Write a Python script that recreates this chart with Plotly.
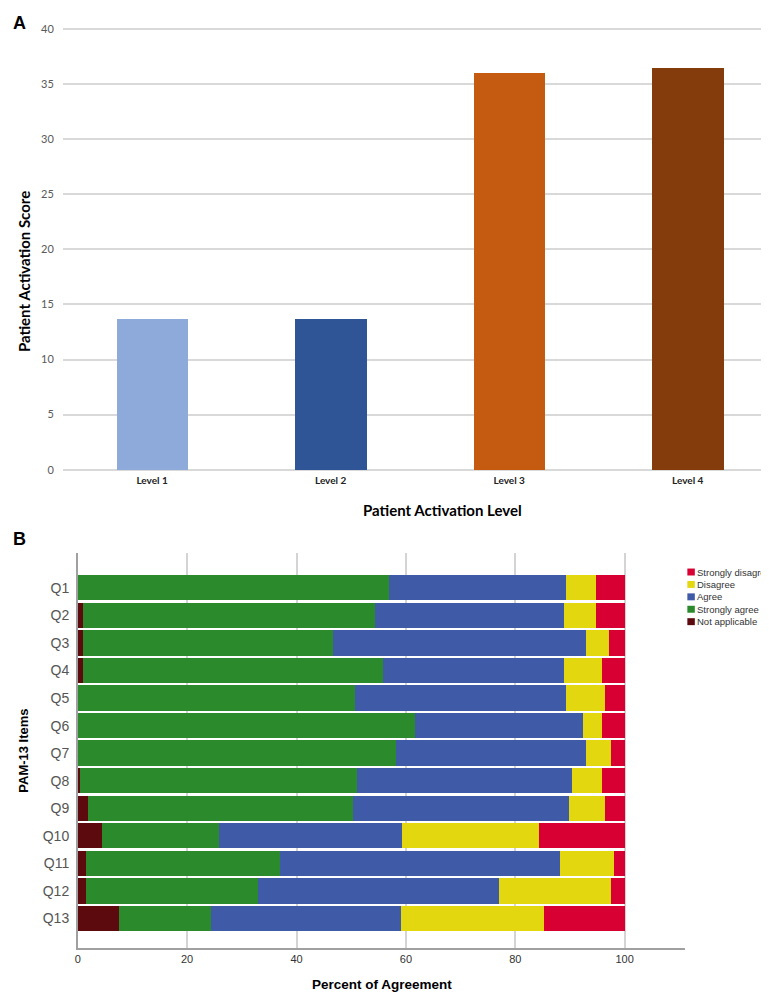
import plotly.graph_objects as go

W, H = 769, 992

# Panel A data
levels = ["Level 1", "Level 2", "Level 3", "Level 4"]
activation_scores = [13.7, 13.7, 36.0, 36.5]
level_colors = ["#8eaadb", "#2f5597", "#c55a11", "#843c0c"]

# Panel B data (percent per response category)
items = ["Q1", "Q2", "Q3", "Q4", "Q5", "Q6", "Q7", "Q8", "Q9", "Q10", "Q11", "Q12", "Q13"]
not_applicable = [0.0, 0.9, 0.9, 0.9, 0.0, 0.0, 0.0, 0.4, 1.9, 4.4, 1.4, 1.4, 7.5]
strongly_agree = [56.8, 53.4, 45.8, 54.9, 50.6, 61.7, 58.2, 50.7, 48.3, 21.3, 35.5, 31.5, 16.9]
agree = [32.5, 34.5, 46.1, 33.0, 38.7, 30.6, 34.6, 39.2, 39.5, 33.6, 51.3, 44.1, 34.7]
disagree = [5.5, 6.0, 4.2, 7.1, 7.1, 3.6, 4.6, 5.6, 6.7, 25.0, 9.8, 20.4, 26.1]
strongly_disagree = [5.2, 5.2, 3.0, 4.1, 3.6, 4.1, 2.6, 4.1, 3.6, 15.7, 2.0, 2.6, 14.8]

series_names = ["Not applicable", "Strongly agree", "Agree", "Disagree", "Strongly disagree"]
series_values = [not_applicable, strongly_agree, agree, disagree, strongly_disagree]
series_colors = ["#5c0a0e", "#2b8a2b", "#3f5ba8", "#e3d70f", "#d80032"]


def px_x(p):
    return p / W


def px_y(p):
    return 1 - p / H


fig = go.Figure()

# Panel A: activation score by level
fig.add_trace(go.Bar(
    x=levels, y=activation_scores,
    marker=dict(color=level_colors, line=dict(width=0)),
    width=0.4, showlegend=False, xaxis="x", yaxis="y",
))

# Panel B: stacked agreement bars
for name, vals, col in zip(series_names, series_values, series_colors):
    fig.add_trace(go.Bar(
        y=items, x=vals, name=name, orientation="h",
        marker=dict(color=col, line=dict(width=0)),
        width=0.92, showlegend=False, xaxis="x2", yaxis="y2",
    ))

fig.update_layout(
    width=W, height=H,
    margin=dict(l=0, r=0, t=0, b=0),
    plot_bgcolor="white", paper_bgcolor="white",
    barmode="stack",
    font=dict(family="Liberation Sans, Arial", color="#333333"),
    xaxis=dict(
        domain=[px_x(52), 1.0], range=[-0.5, 3.5],
        showgrid=False, zeroline=False, showline=False,
        tickfont=dict(family="Lato", size=10, color="#222222", weight="bold"),
        anchor="y",
    ),
    yaxis=dict(
        domain=[px_y(464.3), px_y(13.7)], range=[-0.3, 40.3],
        tickvals=[0, 5, 10, 15, 20, 25, 30, 35, 40],
        showgrid=True, gridcolor="#d9d9d9", gridwidth=1.5,
        zeroline=False, showline=False,
        tickfont=dict(family="Lato", size=11, color="#595959"),
        ticklabelstandoff=8,
        anchor="x",
    ),
    xaxis2=dict(
        domain=[px_x(67), px_x(677)], range=[0, 111.1],
        tickvals=[0, 20, 40, 60, 80, 100],
        showgrid=True, gridcolor="#d4d4d4", gridwidth=1.5,
        zeroline=False, showline=True, linecolor="#a0a0a0", linewidth=1.5,
        tickfont=dict(size=11, color="#333333"),
        anchor="y2",
    ),
    yaxis2=dict(
        domain=[px_y(943), px_y(545)], range=[13.08, -1.26],
        showgrid=False, zeroline=False, showline=True,
        linecolor="#a0a0a0", linewidth=1.5,
        tickfont=dict(size=14, color="#555555"),
        ticklabelstandoff=4,
        anchor="x2",
    ),
    bargap=0,
)

annotations = [
    dict(text="<b>A</b>", x=px_x(9), y=px_y(11), font=dict(size=18, color="black")),
    dict(text="<b>B</b>", x=px_x(9), y=px_y(531), font=dict(size=18, color="black")),
    dict(text="<b>Patient Activation Score</b>", x=px_x(13), y=px_y(261), textangle=-90,
         font=dict(family="Lato", size=15, color="black")),
    dict(text="<b>Patient Activation Level</b>", x=px_x(433), y=px_y(502),
         font=dict(family="Lato", size=15, color="black")),
    dict(text="<b>PAM-13 Items</b>", x=px_x(13), y=px_y(744), textangle=-90,
         font=dict(size=13, color="black")),
    dict(text="<b>Percent of Agreement</b>", x=px_x(372), y=px_y(979),
         font=dict(size=13.5, color="black")),
]
for a in annotations:
    a.update(xref="paper", yref="paper", showarrow=False, xanchor="center", yanchor="middle")

# Compact legend (reversed order, as in the original)
shapes = []
for i, (name, col) in enumerate(zip(series_names[::-1], series_colors[::-1])):
    yc = 564 + i * 12.5
    shapes.append(dict(
        type="rect", xref="paper", yref="paper",
        x0=px_x(679), x1=px_x(686.5), y0=px_y(yc + 3.5), y1=px_y(yc - 3.5),
        fillcolor=col, line=dict(width=0),
    ))
    annotations.append(dict(
        text=name, x=px_x(688), y=px_y(yc), xref="paper", yref="paper",
        showarrow=False, xanchor="left", yanchor="middle", borderpad=0,
        font=dict(size=9.5, color="#333333"),
    ))

fig.update_layout(annotations=annotations, shapes=shapes)

fig.write_html("out.html")
